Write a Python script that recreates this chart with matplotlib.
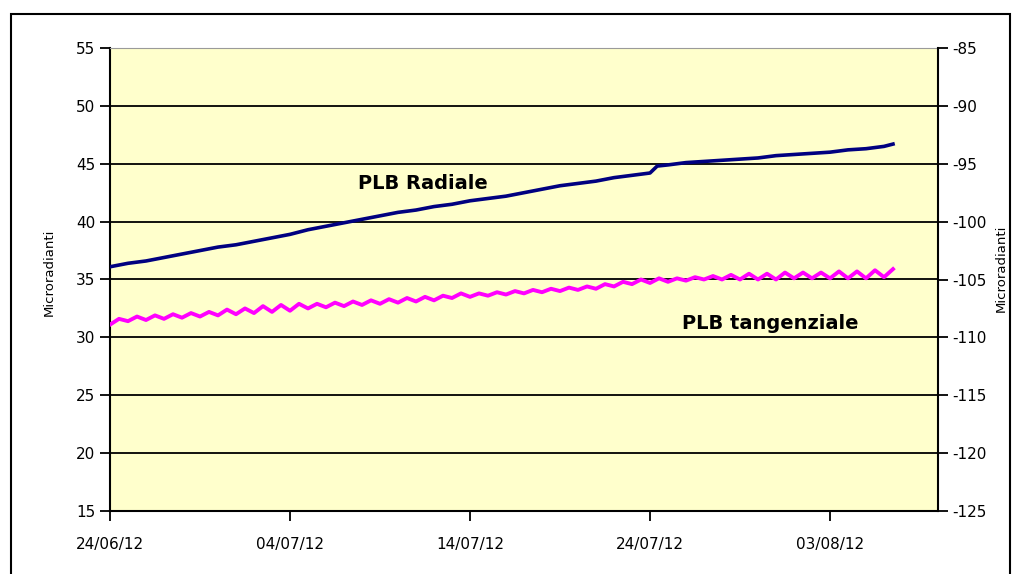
import matplotlib
matplotlib.use("Agg")
import matplotlib.pyplot as plt
import matplotlib.dates as mdates
import numpy as np
from datetime import datetime, timedelta

plt.rcParams["axes.unicode_minus"] = False

# PLB Radiale, one reading per day (left axis, microradianti)
radial_days = [0, 1, 2, 3, 4, 5, 6, 7, 8, 9, 10, 11, 12, 13, 14, 15, 16, 17, 18, 19, 20, 21,
               22, 23, 24, 25, 26, 27, 28, 29, 30, 30.4, 31, 32, 33, 34, 35, 36, 37, 38, 39, 40,
               41, 42, 43, 43.5]
radial = [36.1, 36.4, 36.6, 36.9, 37.2, 37.5, 37.8, 38.0, 38.3, 38.6, 38.9, 39.3, 39.6,
          39.9, 40.2, 40.5, 40.8, 41.0, 41.3, 41.5, 41.8, 42.0, 42.2, 42.5, 42.8, 43.1,
          43.3, 43.5, 43.8, 44.0, 44.2, 44.8, 44.9, 45.1, 45.2, 45.3, 45.4, 45.5, 45.7, 45.8,
          45.9, 46.0, 46.2, 46.3, 46.5, 46.7]

# PLB tangenziale (right axis): daily low and high of the oscillation
tang_low = [-108.9, -108.6, -108.5, -108.4, -108.3, -108.2, -108.1, -108.0, -107.9, -107.8,
            -107.7, -107.5, -107.4, -107.3, -107.2, -107.1, -107.0, -106.9, -106.8, -106.6,
            -106.5, -106.4, -106.3, -106.2, -106.1, -106.0, -105.9, -105.8, -105.6, -105.4,
            -105.3, -105.2, -105.1, -105.0, -105.0, -105.0, -105.0, -105.0, -104.9, -104.9,
            -104.9, -104.9, -104.9, -104.8]
tang_high = [-108.4, -108.2, -108.1, -108.0, -107.9, -107.8, -107.6, -107.5, -107.3, -107.2,
             -107.1, -107.1, -107.0, -106.9, -106.8, -106.7, -106.6, -106.5, -106.4, -106.2,
             -106.2, -106.1, -106.0, -105.9, -105.8, -105.7, -105.6, -105.4, -105.2, -105.0,
             -104.9, -104.9, -104.8, -104.7, -104.6, -104.5, -104.5, -104.4, -104.4, -104.4,
             -104.3, -104.3, -104.2, -104.1]

start = datetime(2012, 6, 24)
tick_dates = ["24/06/12", "04/07/12", "14/07/12", "24/07/12", "03/08/12"]

rad_x = [start + timedelta(days=d) for d in radial_days]
tang_x = []
tang_y = []
for i in range(len(tang_low)):
    tang_x.append(start + timedelta(days=i))
    tang_y.append(tang_low[i])
    tang_x.append(start + timedelta(days=i + 0.5))
    tang_y.append(tang_high[i])

fig = plt.figure(figsize=(10.14, 5.74), dpi=100)
fig.patches.append(plt.Rectangle((11 / 1014, -0.01), 999 / 1014, 1 - 14 / 574 + 0.01,
                                 transform=fig.transFigure, fill=False,
                                 edgecolor="black", linewidth=1.5))

ax = fig.add_axes([110 / 1014, 63 / 574, 828 / 1014, 463 / 574])
ax.set_facecolor("#FFFFCC")
ax.plot(rad_x, radial, color="#000080", linewidth=2.6, zorder=3)

ax.set_ylim(15, 55)
ax.set_yticks(range(15, 56, 5))
ax.set_xlim(start, start + timedelta(days=46))
ax.set_xticks([datetime.strptime(t, "%d/%m/%y") for t in tick_dates])
ax.xaxis.set_major_formatter(mdates.DateFormatter("%d/%m/%y"))
for v in range(20, 55, 5):
    ax.axhline(v, color="black", linewidth=1.3, zorder=1)

ax.spines["top"].set_color("#9a9a9a")
ax.spines["right"].set_visible(False)
for s in ["left", "bottom"]:
    ax.spines[s].set_linewidth(1.5)
ax.tick_params(axis="both", direction="out", length=7, width=1.3, labelsize=11)
ax.tick_params(axis="x", pad=12)
ax.set_ylabel("Microradianti", fontsize=9.5)
ax.yaxis.set_label_coords(-0.066, 0.516)

ax2 = ax.twinx()
ax2.plot(tang_x, tang_y, color="#FF00FF", linewidth=2.8, zorder=3)
ax2.set_ylim(-125, -85)
ax2.set_yticks(range(-125, -84, 5))
ax2.spines["right"].set_linewidth(1.5)
ax2.spines["top"].set_visible(False)
ax2.spines["left"].set_visible(False)
ax2.spines["bottom"].set_visible(False)
ax2.tick_params(axis="y", direction="out", length=7, width=1.3, labelsize=11)
ax2.set_ylabel("Microradianti", fontsize=9.5, rotation=90)
ax2.yaxis.set_label_coords(1.068, 0.525)

ax.text(start + timedelta(days=13.8), 43.3, "PLB Radiale", fontsize=14,
        fontweight="bold", ha="left", va="center")
ax.text(start + timedelta(days=31.8), 31.2, "PLB tangenziale", fontsize=14,
        fontweight="bold", ha="left", va="center")

fig.savefig("out.png", dpi=100)
